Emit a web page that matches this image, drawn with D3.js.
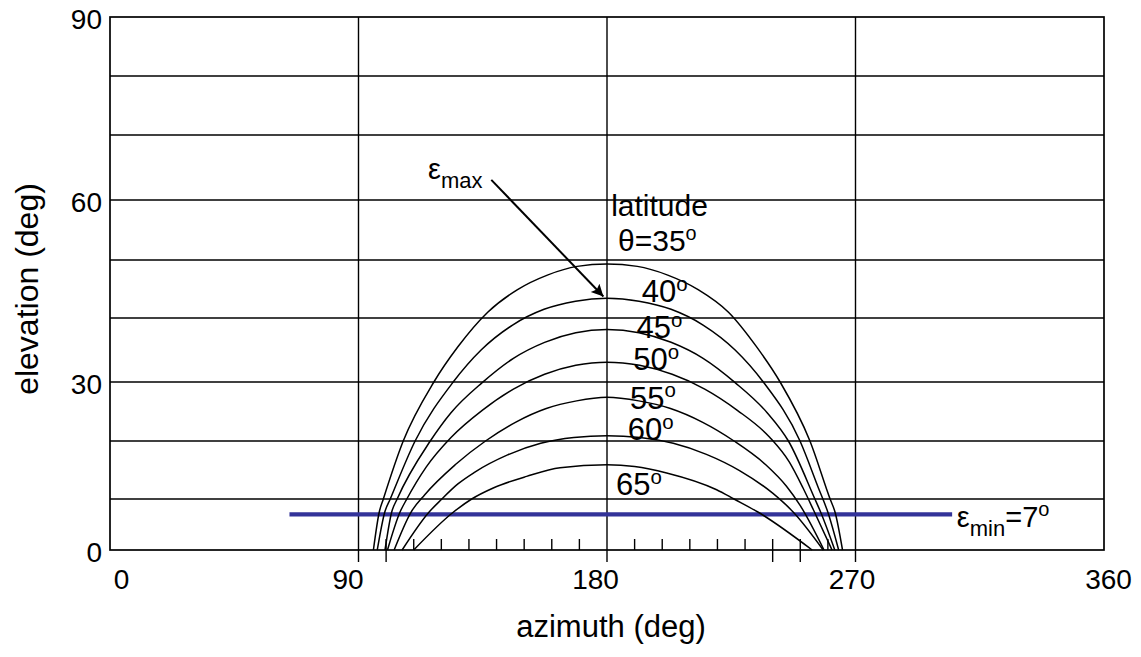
<!DOCTYPE html>
<html><head><meta charset="utf-8">
<script src="https://cdn.jsdelivr.net/npm/d3@7"></script>
<style>
body{margin:0;background:#fff}
svg{display:block}
text{font-family:"Liberation Sans",Arial,Helvetica,sans-serif;fill:#000}
</style>
</head><body>
<svg id="chart" width="1141" height="657"></svg>
<script>
// ---------- data ----------
const azimuthTicks = [0, 90, 180, 270, 360];
const elevationTicks = [0, 30, 60, 90];
const elevationGrid = [10, 20, 30, 40, 50, 60, 70, 80];
const azimuthGrid = [90, 180, 270];
const azimuthMinor = [100, 110, 120, 130, 140, 150, 160, 170, 190, 200, 210, 220, 230, 240, 250, 260];
const azimuthMinorLong = [100, 240, 250];
const latitudes = [35, 40, 45, 50, 55, 60, 65];

// [azimuth, elevation]
const lat35 = [[95.4,0],[97.5,7.4],[99,10],[106.2,20],[117.3,30],[126,35.5],[136.8,41.0],[147.6,44.9],[158.4,47.4],[169.2,48.9],[180,49.3],[191,48.9],[202,47.4],[213,44.9],[224,41.0],[234,35.6],[242.7,30],[253.5,20],[260.8,10],[262.6,7.4],[265.3,0]];
const lat40 = [[96.8,0],[99.5,7.4],[101.5,10],[110.5,20],[124.3,30],[134.4,35.0],[145.8,38.9],[157.2,41.5],[168.6,42.9],[180,43.4],[191.6,42.9],[203.2,41.5],[214.8,38.9],[226.4,35.0],[236.6,30],[249.9,20],[256.5,12],[260,7.4],[263.9,0]];
const lat45 = [[99.6,0],[102,7.4],[104,10],[116,20],[123.5,24.8],[134.8,29.9],[146.1,33.7],[157.4,36.2],[168.7,37.7],[180,38.2],[191.6,37.7],[203.2,36.2],[214.8,33.7],[226.4,29.9],[238,24.8],[245.7,20],[255.3,10],[257.4,7.4],[262.5,0]];
const lat50 = [[100.5,0],[105,7.4],[107.5,10],[114.5,15.5],[123.5,20.6],[134.8,25.2],[146.1,28.8],[157.4,31.2],[168.7,32.6],[180,33.1],[191.8,32.6],[203.6,31.2],[215.4,28.8],[227.2,25.2],[239,20.6],[246,16.4],[251,11.9],[255,7.6],[261.5,0]];
const lat55 = [[102.9,0],[109,7.4],[114,10.75],[125,15.9],[136,20],[147,23.2],[158,25.5],[169,26.8],[180,27.4],[191.5,26.8],[203,25.5],[214.5,23.2],[226,20],[237.5,15.9],[245,12.2],[250,8.7],[258.6,0]];
const lat60 = [[105.8,0],[115.5,7.4],[120,9.9],[126,12.6],[132,14.6],[144,17.6],[156,19.6],[168,20.6],[180,20.9],[192,20.6],[204,19.6],[216,17.7],[228,14.9],[240,11.0],[247.5,7.4],[258.3,0]];
const lat65 = [[110,0],[124.3,7.4],[131,10],[138.8,11.9],[150.9,13.9],[163,15.4],[180,15.9],[190,15.6],[201.6,14.5],[219.7,11.6],[226,10],[234.8,7.4],[254.3,0]];
const curves = [lat35, lat40, lat45, lat50, lat55, lat60, lat65];

const epsMinValue = 7;
const epsMinAzimuth = [65, 305];

// ---------- scales ----------
const svg = d3.select("#chart");
const x = d3.scaleLinear().domain([0, 360]).range([110, 1104]);
// piecewise scale following the original (uneven) grid spacing
const y = d3.scaleLinear()
  .domain([0, 10, 20, 30, 40, 50, 60, 70, 80, 90])
  .range([550, 499, 441, 382, 318, 260, 200, 135, 76, 17]);

const ink = "#000";

// horizontal grid
svg.append("g").selectAll("line").data(elevationGrid).join("line")
  .attr("x1", x(0)).attr("x2", x(360))
  .attr("y1", d => y(d)).attr("y2", d => y(d))
  .attr("stroke", ink).attr("stroke-width", 1.4);

// vertical grid (extends below axis)
svg.append("g").selectAll("line").data(azimuthGrid).join("line")
  .attr("x1", d => x(d)).attr("x2", d => x(d))
  .attr("y1", y(90)).attr("y2", y(0) + 12)
  .attr("stroke", ink).attr("stroke-width", 1.4);

// minor ticks
svg.append("g").selectAll("line").data(azimuthMinor).join("line")
  .attr("x1", d => x(d)).attr("x2", d => x(d))
  .attr("y1", y(0) - 11)
  .attr("y2", d => azimuthMinorLong.includes(d) ? y(0) + 12 : y(0))
  .attr("stroke", ink).attr("stroke-width", 1.4);

// frame
svg.append("rect")
  .attr("x", x(0)).attr("y", y(90))
  .attr("width", x(360) - x(0)).attr("height", y(0) - y(90))
  .attr("fill", "none").attr("stroke", ink).attr("stroke-width", 1.7);

// axes labels
const xNudge = {0: 11, 90: -11, 180: -12, 270: -4, 360: 4};
const xAxis = svg.append("g").attr("transform", `translate(0,${y(0)})`)
  .call(d3.axisBottom(x).tickValues(azimuthTicks).tickSize(0).tickPadding(0).tickFormat(d3.format("d")));
xAxis.select(".domain").remove();
xAxis.selectAll("text")
  .attr("y", 39).attr("dy", 0)
  .attr("dx", d => xNudge[d])
  .style("font-size", "28px").attr("font-family", null);

const yAxis = svg.append("g").attr("transform", `translate(${x(0)},0)`)
  .call(d3.axisLeft(y).tickValues(elevationTicks).tickSize(0).tickPadding(8).tickFormat(d3.format("d")));
yAxis.select(".domain").remove();
yAxis.selectAll("text")
  .attr("dy", "0.42em")
  .style("font-size", "28px").attr("font-family", null);

svg.append("text")
  .attr("x", x(180) + 4).attr("y", 637)
  .attr("text-anchor", "middle")
  .style("font-size", "31px")
  .text("azimuth (deg)");

svg.append("text")
  .attr("transform", `translate(38,${y(45)}) rotate(-90)`)
  .attr("text-anchor", "middle")
  .style("font-size", "32px")
  .text("elevation (deg)");

// eps_min line
svg.append("line")
  .attr("x1", x(epsMinAzimuth[0])).attr("x2", x(epsMinAzimuth[1]))
  .attr("y1", y(epsMinValue)).attr("y2", y(epsMinValue))
  .attr("stroke", "#333399").attr("stroke-width", 4.3);

// curves
const line = d3.line().x(d => x(d[0])).y(d => y(d[1])).curve(d3.curveMonotoneX);
svg.append("g").selectAll("path").data(curves).join("path")
  .attr("d", line)
  .attr("fill", "none").attr("stroke", ink).attr("stroke-width", 1.5);

// degree-style label helper
function degLabel(az, el, main, size) {
  const t = svg.append("text").attr("x", x(az)).attr("y", y(el)).style("font-size", size + "px");
  t.append("tspan").text(main);
  t.append("tspan").attr("dy", -size * 0.36).style("font-size", (size * 0.66) + "px").text("o");
  return t;
}

// latitude labels
svg.append("text").attr("x", x(181.5)).attr("y", y(57.3)).style("font-size", "30px").text("latitude");
degLabel(184, 51.5, "\u03B8=35", 30);
const labelPos = {40: [192.6, 42.8], 45: [190.7, 36.9], 50: [189.5, 31.9], 55: [188.3, 25.5], 60: [187.5, 20.2], 65: [183.3, 10.7]};
latitudes.slice(1).forEach(l => degLabel(labelPos[l][0], labelPos[l][1], String(l), 31));

// eps_min label
const em = svg.append("text").attr("x", x(306.7)).attr("y", y(4.5)).style("font-size", "29px");
em.append("tspan").text("\u03B5");
em.append("tspan").attr("dy", 9).style("font-size", "22px").text("min");
em.append("tspan").attr("dy", -9).text("=7");
em.append("tspan").attr("dy", -11).style("font-size", "20px").text("o");

// eps_max label + arrow
const ex = svg.append("text").attr("x", x(115.2)).attr("y", y(63.3)).style("font-size", "29px");
ex.append("tspan").text("\u03B5");
ex.append("tspan").attr("dy", 9).style("font-size", "22px").text("max");

svg.append("defs").append("marker")
  .attr("id", "arrow").attr("viewBox", "0 0 10 10").attr("refX", 10).attr("refY", 5)
  .attr("markerWidth", 15).attr("markerHeight", 12).attr("markerUnits", "userSpaceOnUse")
  .attr("orient", "auto")
  .append("path").attr("d", "M0,0 L10,5 L0,10 L2,5 Z").attr("fill", ink);
svg.append("line")
  .attr("x1", x(138.1)).attr("y1", y(63.1))
  .attr("x2", x(178.7)).attr("y2", y(43.7))
  .attr("stroke", ink).attr("stroke-width", 2)
  .attr("marker-end", "url(#arrow)");
</script>
</body></html>
